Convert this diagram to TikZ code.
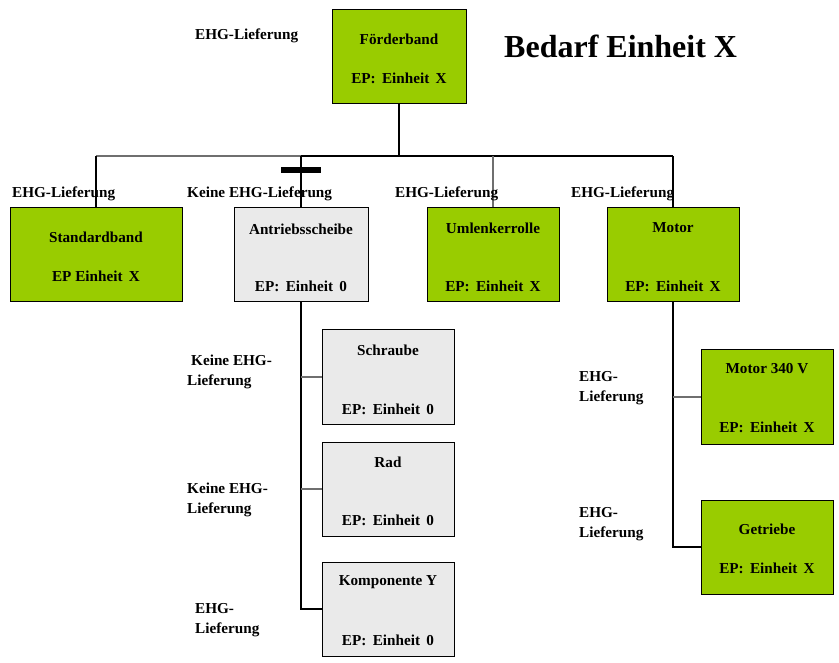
\documentclass[tikz,border=0pt]{standalone}
\usepackage{fontspec}
\setmainfont{Liberation Serif}
\definecolor{gfill}{HTML}{99CC00}
\definecolor{pfill}{HTML}{EAEAEA}
\definecolor{lgray}{HTML}{6F6F6F}
\tikzset{
  box/.style={draw=black, line width=1pt, inner sep=0pt},
  gbox/.style={box, fill=gfill},
  pbox/.style={box, fill=pfill},
  txt/.style={inner sep=0pt, font=\fontsize{15.2}{20}\selectfont\bfseries},
  lbl/.style={txt, anchor=west, align=left},
  conn/.style={line width=1.1pt, black},
  gconn/.style={line width=1.2pt, lgray}
}
\newcommand{\ep}[1]{EP:\,\ Einheit\,\ #1}
\begin{document}
\begin{tikzpicture}[x=1pt,y=-1pt]
\useasboundingbox (0,0) rectangle (839,663);
% boxes
\node[gbox, minimum width=134, minimum height=94] (foerder) at (399,57) {};
\node[gbox, minimum width=172, minimum height=94] (std) at (96,255) {};
\node[pbox, minimum width=134, minimum height=94] (ant) at (301,255) {};
\node[gbox, minimum width=132, minimum height=94] (uml) at (493,255) {};
\node[gbox, minimum width=132, minimum height=94] (motor) at (673,255) {};
\node[pbox, minimum width=132, minimum height=94] (schr) at (388,377) {};
\node[pbox, minimum width=132, minimum height=94] (rad) at (388,489) {};
\node[pbox, minimum width=132, minimum height=94] (komp) at (388,609) {};
\node[gbox, minimum width=132, minimum height=94] (m340) at (767,397) {};
\node[gbox, minimum width=132, minimum height=94] (getr) at (767,547) {};
% box texts
\node[txt] (t1) at (399,39) {Förderband};
\node[txt] (t2) at (399,78) {\ep{X}};
\node[txt] (t3) at (96,237) {Standardband};
\node[txt] (t4) at (96,276) {EP Einheit\,\ X};
\node[txt] (t5) at (301,229) {Antriebsscheibe};
\node[txt] (t6) at (301,286) {\ep{0}};
\node[txt] (t7) at (493,228) {Umlenkerrolle};
\node[txt] (t8) at (493,286) {\ep{X}};
\node[txt] (t9) at (673,228) {Motor};
\node[txt] (t10) at (673,286) {\ep{X}};
\node[txt] (t11) at (388,350) {Schraube};
\node[txt] (t12) at (388,409) {\ep{0}};
\node[txt] (t13) at (388,462) {Rad};
\node[txt] (t14) at (388,520) {\ep{0}};
\node[txt] (t15) at (388,582) {Komponente Y};
\node[txt] (t16) at (388,640) {\ep{0}};
\node[txt] (t17) at (767,369) {Motor 340 V};
\node[txt] (t18) at (767,427) {\ep{X}};
\node[txt] (t19) at (767,529) {Getriebe};
\node[txt] (t20) at (767,568) {\ep{X}};
% connectors
\coordinate (busL) at (96,156);
\coordinate (busR) at (673,156);
\draw[gconn] (busL) -- (ant.north |- busL);
\draw[conn] (ant.north |- busL) -- (busR);
\draw[conn, line width=1.8pt] (foerder.south) -- (foerder.south |- busL);
\draw[conn] (std.north) -- (std.north |- busL);
\draw[conn] (ant.north) -- (ant.north |- busL);
\draw[gconn] (uml.north) -- (uml.north |- busL);
\draw[conn] (motor.north) -- (motor.north |- busL);
\node[fill=black, inner sep=0pt, minimum width=40, minimum height=6] (bar) at (301,170) {};
\draw[conn] (ant.south) |- (komp.west);
\draw[gconn] (schr.west) -- (schr.west -| ant.south);
\draw[gconn] (rad.west) -- (rad.west -| ant.south);
\draw[conn] (motor.south) |- (getr.west);
\draw[gconn] (m340.west) -- (m340.west -| motor.south);
% labels
\node[lbl] (l1) at (195,36) {EHG-Lieferung};
\node[lbl] (l2) at (12,194) {EHG-Lieferung};
\node[lbl] (l3) at (187,194) {Keine EHG-Lieferung};
\node[lbl] (l4) at (395,194) {EHG-Lieferung};
\node[lbl] (l5) at (571,194) {EHG-Lieferung};
\node[lbl] (l6) at (187,372) {\hspace{4pt}Keine EHG-\\Lieferung};
\node[lbl] (l7) at (187,500) {Keine EHG-\\Lieferung};
\node[lbl] (l8) at (195,620) {EHG-\\Lieferung};
\node[lbl] (l9) at (579,388) {EHG-\\Lieferung};
\node[lbl] (l10) at (579,524) {EHG-\\Lieferung};
\node[inner sep=0pt, anchor=west, font=\fontsize{32}{36}\selectfont\bfseries] (title) at (504,46) {Bedarf Einheit X};
\end{tikzpicture}
\end{document}
